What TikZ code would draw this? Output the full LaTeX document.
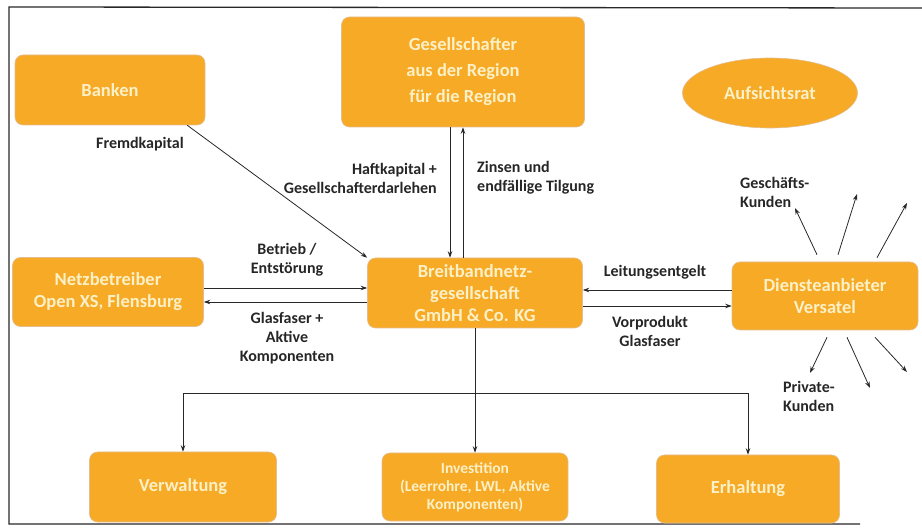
\documentclass[tikz,border=0pt]{standalone}
\usepackage{fontspec}
\setmainfont{Carlito}
\usetikzlibrary{arrows.meta,calc,shapes.geometric}
\definecolor{boxorange}{RGB}{246,170,38}
\definecolor{boxtext}{RGB}{252,240,198}
\definecolor{linegray}{RGB}{40,40,40}
\tikzset{
  orgbox/.style={fill=boxorange,draw=boxorange!85!blue!60!white,line width=0.6pt,rounded corners=8pt,
    text=boxtext,font=\bfseries\fontsize{18.5}{22}\selectfont,align=center},
  flow/.style={draw=linegray,line width=0.8pt,-{Stealth[length=6.5pt,width=4.5pt]}},
  flowlabel/.style={text=black!85,font=\bfseries\fontsize{16}{19}\selectfont,inner sep=0pt}
}
\begin{document}
\begin{tikzpicture}[x=1pt,y=-1pt]
        \useasboundingbox (0,0) rectangle (922,529);
        \draw[linegray,line width=1.3pt] (922,8) -- (9,7) -- (9,524) -- (860,524);
        % boxes
        \node[orgbox,minimum width=190,minimum height=70] (banken) at (110,90) {Banken};
        \node[orgbox,minimum width=243,minimum height=110,font=\bfseries\fontsize{18.5}{26}\selectfont] (gesell) at (463,72) {Gesellschafter\\aus der Region\\für die Region};
        \node[orgbox,ellipse,minimum width=175,minimum height=70] (aufsicht) at (770,93) {Aufsichtsrat};
        \node[orgbox,minimum width=191,minimum height=69] (netz) at (108,292) {Netzbetreiber\\Open XS, Flensburg};
        \node[orgbox,minimum width=215,minimum height=70] (breit) at (475,293) {Breitbandnetz-\\gesellschaft\\GmbH \& Co. KG};
        \node[orgbox,minimum width=186,minimum height=68] (dienst) at (825,296) {Diensteanbieter\\Versatel};
        \node[orgbox,minimum width=187,minimum height=70] (verw) at (183,487) {Verwaltung};
        \node[orgbox,minimum width=186,minimum height=68,font=\bfseries\fontsize{15.5}{18}\selectfont] (invest) at (475,487) {Investition\\(Leerrohre, LWL, Aktive\\Komponenten)};
        \node[orgbox,minimum width=183,minimum height=68] (erhalt) at (748,489) {Erhaltung};
        % connectors
        \draw[flow] ($(banken.south east)+(-18,0)$) -- (breit.north west);
        \draw[flow] ($(gesell.south)+(-13,0)$) coordinate (g1) -- (g1 |- breit.north);
        \draw[flow] (breit.north -| gesell.south) -- (gesell.south);
        \draw[flow] ($(netz.east)+(0,-4)$) coordinate (n1) -- (n1 -| breit.west);
        \draw[flow] ($(breit.west)+(0,9)$) coordinate (n2) -- (n2 -| netz.east);
        \draw[flow] ($(dienst.west)+(0,-6)$) coordinate (d1) -- (d1 -| breit.east);
        \draw[flow] ($(breit.east)+(0,13)$) coordinate (d2) -- (d2 -| dienst.west);
        \draw[flow] (breit.south) -- (invest.north);
        \coordinate (split) at (475,393);
        \draw[flow] (split) -| (verw.north);
        \draw[flow] (split) -| (erhalt.north);
        % customers
        \coordinate (gk1) at (795,208);
        \coordinate (gk2) at (857,194);
        \coordinate (gk3) at (907,203);
        \coordinate (pk1) at (810,373);
        \coordinate (pk2) at (870,388);
        \coordinate (pk3) at (907,372);
        \draw[flow] ($(dienst.north)+(-8,-7)$) -- (gk1);
        \draw[flow] ($(dienst.north)+(13,-7)$) -- (gk2);
        \draw[flow] ($(dienst.north)+(52,-4)$) -- (gk3);
        \draw[flow] ($(dienst.south)+(2,7)$) -- (pk1);
        \draw[flow] ($(dienst.south)+(22,7)$) -- (pk2);
        \draw[flow] ($(dienst.south)+(50,7)$) -- (pk3);
        % labels
        \node[flowlabel] (lfremd) at (140,144) {Fremdkapital};
        \node[flowlabel,align=right,anchor=east] (lhaft) at (437,178) {Haftkapital +\\Gesellschafterdarlehen};
        \node[flowlabel,align=left,anchor=west] (lzins) at (477,178) {Zinsen und\\endfällige Tilgung};
        \node[flowlabel,align=center] (lbetrieb) at (287,260) {Betrieb /\\Entstörung};
        \node[flowlabel,align=center] (lglas) at (287,338) {Glasfaser +\\Aktive\\Komponenten};
        \node[flowlabel] (lleit) at (655,272) {Leitungsentgelt};
        \node[flowlabel,align=center] (lvor) at (650,331) {Vorprodukt\\Glasfaser};
        \node[flowlabel,align=left,anchor=west] (lgk) at (740,192) {Geschäfts-\\Kunden};
        \node[flowlabel,align=left,anchor=west] (lpk) at (783,396) {Private-\\Kunden};
    \end{tikzpicture}
\end{document}
